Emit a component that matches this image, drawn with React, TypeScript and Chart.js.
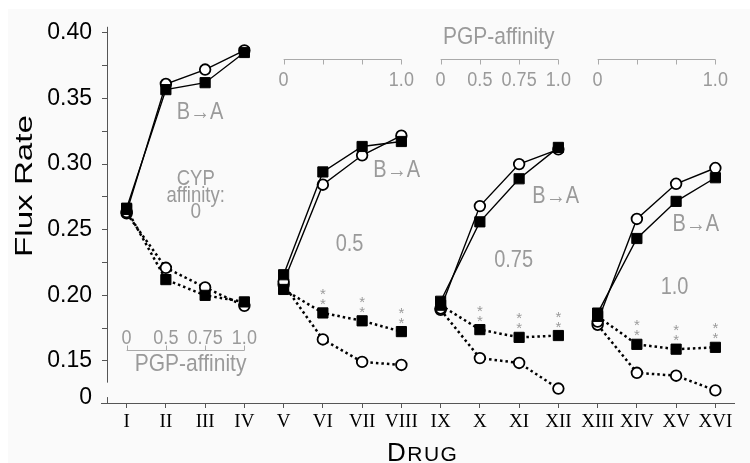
import React, { useEffect, useRef } from 'react';
import { Chart, registerables } from 'chart.js';

Chart.register(...registerables);

// ---------- data ----------
const drugs = ['I', 'II', 'III', 'IV', 'V', 'VI', 'VII', 'VIII', 'IX', 'X', 'XI', 'XII', 'XIII', 'XIV', 'XV', 'XVI'];

// B→A (solid lines)
const baSquare = [0.2664, 0.3567, 0.362, 0.385, 0.2157, 0.294, 0.3134, 0.3172, 0.1955, 0.256, 0.2888, 0.3127, 0.1865, 0.2433, 0.2716, 0.2896];
const baCircle = [0.2634, 0.361, 0.372, 0.3866, 0.2104, 0.2843, 0.3067, 0.3216, 0.190, 0.268, 0.300, 0.3112, 0.180, 0.2582, 0.285, 0.297];
// A→B (dotted lines)
const abSquare = [0.2655, 0.212, 0.200, 0.195, 0.2045, 0.1866, 0.1806, 0.1724, 0.1925, 0.1739, 0.168, 0.1694, 0.184, 0.1627, 0.159, 0.1604];
const abCircle = [0.2625, 0.221, 0.206, 0.192, 0.2082, 0.1664, 0.1493, 0.147, 0.189, 0.1522, 0.1485, 0.129, 0.1776, 0.141, 0.1388, 0.1276];

const groupStarts = [0, 4, 8, 12];
const sigIndex = [5, 6, 7, 9, 10, 11, 13, 14, 15];

const yTickValues = [0.122, 0.15, 0.175, 0.2, 0.225, 0.25, 0.275, 0.3, 0.325, 0.35, 0.375, 0.4];
const yBreakLabel = '0';

const cypLabels = ['0', '0.5', '0.75', '1.0'];
const pgpLabels = [
  ['0', '0.5', '0.75', '1.0'],
  ['0', '', '', '1.0'],
  ['0', '0.5', '0.75', '1.0'],
  ['0', '', '', '1.0'],
];
const pgpTitle = 'PGP-affinity';
const baLabel = 'B\u2192A';
const cypTitle = ['CYP', 'affinity:'];
const yTitle = 'Flux Rate';
const xTitle = ['D', 'RUG'];

const SANS = '"Liberation Sans", Arial, Helvetica, sans-serif';
const SERIF = '"Liberation Serif", "Times New Roman", serif';
const GRAY = '#9a9a9a';

function gtext(ctx: CanvasRenderingContext2D, s: string, px: number, py: number, size: number, color = GRAY, sy = 1.15) {
  ctx.save();
  ctx.translate(px, py);
  ctx.scale(1, sy);
  ctx.font = `${size}px ${SANS}`;
  ctx.fillStyle = color;
  ctx.textAlign = 'center';
  ctx.textBaseline = 'middle';
  ctx.fillText(s, 0, 0);
  ctx.restore();
}

const decorPlugin = {
  id: 'decor',
  afterDraw(chart: any) {
    const { ctx, chartArea } = chart;
    const x = chart.scales.x;
    const y = chart.scales.y;
    ctx.save();

    // axes (broken y-axis)
    ctx.strokeStyle = '#555';
    ctx.lineWidth = 1;
    const ax = Math.round(chartArea.left) + 0.5;
    const by = Math.round(chartArea.bottom) + 0.5;
    ctx.beginPath();
    ctx.moveTo(ax, chartArea.top - 6);
    ctx.lineTo(ax, y.getPixelForValue(0.1335));
    ctx.moveTo(ax, y.getPixelForValue(0.1225));
    ctx.lineTo(ax, chartArea.bottom);
    ctx.moveTo(chartArea.left - 6, by);
    ctx.lineTo(chartArea.right, by);
    ctx.stroke();

    // PGP brackets
    ctx.strokeStyle = '#aaa';
    ctx.lineWidth = 1;
    groupStarts.forEach((g, gi) => {
      const xs = [0, 1, 2, 3].map((k) => x.getPixelForValue(g + k));
      const top = gi > 0;
      const ly = Math.round(y.getPixelForValue(top ? 0.3799 : 0.1582)) + 0.5;
      const dir = top ? 5 : -5;
      ctx.beginPath();
      ctx.moveTo(xs[0], ly);
      ctx.lineTo(xs[3], ly);
      xs.forEach((px) => {
        const rx = Math.round(px) + 0.5;
        ctx.moveTo(rx, ly);
        ctx.lineTo(rx, ly + dir);
      });
      ctx.stroke();
      const labY = y.getPixelForValue(top ? 0.3642 : 0.1672);
      pgpLabels[gi].forEach((t, k) => {
        if (t) gtext(ctx, t, xs[k], labY, 18);
      });
    });
    gtext(ctx, pgpTitle, x.getPixelForValue(1.63), y.getPixelForValue(0.1478), 21);
    gtext(ctx, pgpTitle, x.getPixelForValue(9.48), y.getPixelForValue(0.3963), 21);

    // B→A labels
    gtext(ctx, baLabel, x.getPixelForValue(1.87), y.getPixelForValue(0.3388), 20);
    gtext(ctx, baLabel, x.getPixelForValue(6.88), y.getPixelForValue(0.2948), 20);
    gtext(ctx, baLabel, x.getPixelForValue(10.93), y.getPixelForValue(0.2754), 20);
    gtext(ctx, baLabel, x.getPixelForValue(14.5), y.getPixelForValue(0.2537), 20);

    // CYP affinity labels
    gtext(ctx, cypTitle[0], x.getPixelForValue(1.76), y.getPixelForValue(0.2888), 18.5);
    gtext(ctx, cypTitle[1], x.getPixelForValue(1.76), y.getPixelForValue(0.2754), 18.5);
    gtext(ctx, cypLabels[0], x.getPixelForValue(1.76), y.getPixelForValue(0.2635), 19);
    gtext(ctx, cypLabels[1], x.getPixelForValue(5.68), y.getPixelForValue(0.2388), 20);
    gtext(ctx, cypLabels[2], x.getPixelForValue(9.86), y.getPixelForValue(0.2261), 20);
    gtext(ctx, cypLabels[3], x.getPixelForValue(13.96), y.getPixelForValue(0.206), 20);

    // significance asterisks
    ctx.font = `15px ${SANS}`;
    ctx.fillStyle = GRAY;
    ctx.textAlign = 'center';
    ctx.textBaseline = 'alphabetic';
    sigIndex.forEach((i) => {
      const px = x.getPixelForValue(i);
      const py = y.getPixelForValue(abSquare[i]);
      ctx.fillText('*', px, py - 4);
      ctx.fillText('*', px, py - 14);
    });

    // y title
    ctx.save();
    ctx.translate(17, 177);
    ctx.rotate(-Math.PI / 2);
    ctx.font = `24px ${SANS}`;
    const w = ctx.measureText(yTitle).width;
    ctx.scale(142 / w, 1);
    ctx.fillStyle = '#000';
    ctx.textAlign = 'center';
    ctx.textBaseline = 'middle';
    ctx.fillText(yTitle, 0, 0);
    ctx.restore();

    // x title (small caps)
    ctx.fillStyle = '#000';
    ctx.textAlign = 'left';
    ctx.textBaseline = 'alphabetic';
    let cx = 379;
    const base = 452;
    ctx.font = `26px ${SANS}`;
    ctx.fillText(xTitle[0], cx, base);
    cx += ctx.measureText(xTitle[0]).width + 1.5;
    ctx.font = `21px ${SANS}`;
    for (const ch of xTitle[1]) {
      ctx.fillText(ch, cx, base);
      cx += ctx.measureText(ch).width + 1.5;
    }

    ctx.restore();
  },
};

const bgPlugin = {
  id: 'bg',
  beforeDraw(chart: any) {
    const { ctx, width, height } = chart;
    ctx.save();
    ctx.fillStyle = '#fafafa';
    ctx.fillRect(0, 0, width, height);
    ctx.restore();
  },
};

const hideBetweenGroups = (color: string) => (c: any) =>
  groupStarts.includes(c.p1DataIndex) ? 'rgba(0,0,0,0)' : color;

export default function App() {
  const ref = useRef<HTMLCanvasElement | null>(null);

  useEffect(() => {
    document.body.style.margin = '0';
    document.body.style.overflow = 'hidden';
    const canvas = ref.current;
    if (!canvas) return;
    const solid = { borderColor: '#000', borderWidth: 1.4, segment: { borderColor: hideBetweenGroups('#000') } };
    const dotted = {
      borderColor: '#000',
      borderWidth: 2.5,
      borderDash: [2.5, 3],
      segment: { borderColor: hideBetweenGroups('#000') },
    };
    const sq = { pointStyle: 'rect', pointRadius: 7.2, pointBackgroundColor: '#000', pointBorderColor: '#000', pointBorderWidth: 1 };
    const ci = { pointStyle: 'circle', pointRadius: 5.3, pointBackgroundColor: '#fff', pointBorderColor: '#000', pointBorderWidth: 1.8 };

    const chart = new Chart(canvas, {
      type: 'line',
      data: {
        labels: drugs,
        datasets: [
          { label: 'B→A square', data: baSquare, ...solid, ...sq, order: 0 },
          { label: 'A→B square', data: abSquare, ...dotted, ...sq, order: 0 },
          { label: 'B→A circle', data: baCircle, ...solid, ...ci, order: 1 },
          { label: 'A→B circle', data: abCircle, ...dotted, ...ci, order: 1 },
        ] as any,
      },
      options: {
        responsive: false,
        animation: false,
        devicePixelRatio: 1,
        layout: { padding: { top: 16, right: 15, left: 0, bottom: 0 } },
        plugins: { legend: { display: false }, tooltip: { enabled: false }, title: { display: false } },
        scales: {
          x: {
            type: 'category',
            offset: true,
            border: { display: false },
            grid: { drawOnChartArea: false, drawTicks: true, tickLength: 5, color: '#555' },
            ticks: { font: { family: SERIF, size: 19 }, color: '#000', padding: 3, maxRotation: 0, autoSkip: false },
            afterFit: (s: any) => {
              s.height = 60;
            },
          },
          y: {
            type: 'linear',
            min: 0.118,
            max: 0.4,
            border: { display: false },
            grid: {
              drawOnChartArea: false,
              drawTicks: true,
              tickLength: 5,
              color: (c: any) => (c.tick && c.tick.value < 0.14 ? 'rgba(0,0,0,0)' : '#555'),
            },
            afterBuildTicks: (s: any) => {
              s.ticks = yTickValues.map((v) => ({ value: v }));
            },
            ticks: {
              font: { family: SANS, size: 23 },
              color: '#000',
              padding: 10,
              callback: (v: any) => {
                const n = Number(v);
                if (n < 0.14) return yBreakLabel;
                return Math.round(n * 1000) % 50 === 0 ? n.toFixed(2) : '';
              },
            },
            afterFit: (s: any) => {
              s.width = 99;
            },
          },
        },
      } as any,
      plugins: [bgPlugin, decorPlugin],
    });
    return () => chart.destroy();
  }, []);

  return (
    <div style={{ paddingLeft: 8, paddingTop: 9, width: 742, height: 454 }}>
      <canvas ref={ref} width={742} height={454} style={{ display: 'block' }} />
    </div>
  );
}
